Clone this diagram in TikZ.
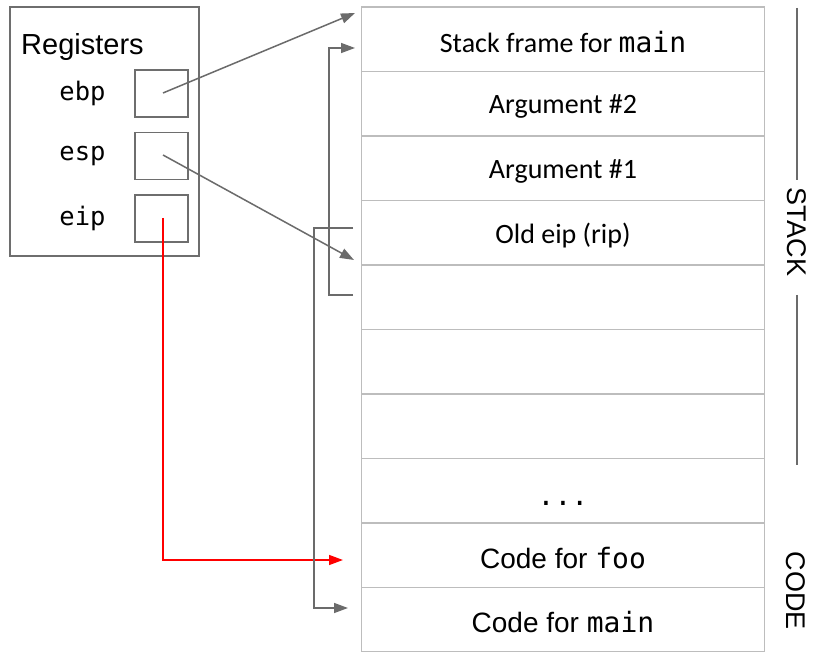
\documentclass[tikz,border=0pt]{standalone}
\usepackage{fontspec}
\setmainfont{Liberation Sans}
\newfontfamily\calib{Carlito}
\newfontfamily\monof{DejaVu Sans Mono}
\usetikzlibrary{arrows.meta}
\definecolor{cellgray}{HTML}{BDBDBD}
\definecolor{reggray}{HTML}{6E6E6E}
\definecolor{arrowgray}{HTML}{6B6B6B}
\definecolor{ptrred}{HTML}{FF0000}
\tikzset{
  cell/.style={draw=cellgray, line width=1.5pt, minimum width=403pt, minimum height=64.5pt, inner sep=0pt},
  calfont/.style={font=\calib\fontsize{28}{30}\selectfont, inner sep=0pt},
  arfont/.style={font=\fontsize{28}{30}\selectfont, inner sep=0pt},
  regbox/.style={draw=reggray, line width=1.5pt, minimum width=53pt, minimum height=47pt, inner sep=0pt},
  reglabel/.style={font=\monof\fontsize{25.5}{28}\selectfont, inner sep=0pt},
  ptr/.style={draw=arrowgray, line width=1.5pt, -{Triangle[length=14pt,width=10pt]}},
  redptr/.style={draw=ptrred, line width=1.5pt, -{Triangle[length=14pt,width=10pt]}},
  side/.style={draw=arrowgray, line width=1.5pt},
  sidelabel/.style={font=\fontsize{27}{30}\selectfont, rotate=-90, inner sep=0pt},
}
\begin{document}
\begin{tikzpicture}[x=1pt,y=-1pt]
\useasboundingbox[fill=white] (0,0) rectangle (817,652);
% stack cells
\node[cell] (r1) at (563,39.25) {};
\node[cell] (r2) at (563,103.75) {};
\node[cell] (r3) at (563,168.25) {};
\node[cell] (r4) at (563,232.75) {};
\node[cell] (r5) at (563,297.25) {};
\node[cell] (r6) at (563,361.75) {};
\node[cell] (r7) at (563,426.25) {};
\node[cell] (r8) at (563,490.75) {};
\node[cell] (r9) at (563,555.25) {};
\node[cell] (r10) at (563,619.75) {};
% cell texts
\node[calfont] (t1) at (563,42) {Stack frame for {\monof main}};
\node[calfont] (t2) at (563,106.5) {Argument \#2};
\node[calfont] (t3) at (563,171) {Argument \#1};
\node[calfont] (t4) at (563,235.5) {Old eip (rip)};
\node[font=\monof\fontsize{28}{30}\selectfont, inner sep=0pt] (t8) at (563,503) {...};
\node[arfont] (t9) at (563,558.5) {Code for {\monof foo}};
\node[arfont] (t10) at (563,622.5) {Code for {\monof main}};
% registers
\node[draw=reggray, line width=1.5pt, minimum width=189pt, minimum height=249pt, inner sep=0pt] (regs) at (104.5,131.5) {};
\node[font=\fontsize{29}{31}\selectfont, anchor=west, inner sep=0pt] (regt) at (21,47.5) {Registers};
\node[regbox] (ebpbox) at (161.5,93.5) {};
\node[regbox] (espbox) at (161.5,156) {};
\node[regbox] (eipbox) at (161.5,218.5) {};
\node[reglabel] (ebpl) at (82.5,93.5) {ebp};
\node[reglabel] (espl) at (82.5,156.5) {esp};
\node[reglabel] (eipl) at (82.5,218.5) {eip};
% pointers
\coordinate (ebpstart) at (163,93);
\coordinate (espstart) at (163,155);
\coordinate (eipstart) at (163,218);
\coordinate (ebpend) at (355,13);
\coordinate (espend) at (354,260);
\coordinate (redend) at (343,560);
\draw[ptr] (ebpstart) -- (ebpend);
\draw[ptr] (espstart) -- (espend);
\draw[redptr] (eipstart) |- (redend);
% brackets
\coordinate (b1a) at (353,295);
\coordinate (b1b) at (355,48);
\draw[ptr] (b1a) -- ++(-24,0) |- (b1b);
\coordinate (b2a) at (353,228);
\coordinate (b2b) at (348,608);
\draw[ptr] (b2a) -- ++(-39,0) |- (b2b);
% side labels
\node[sidelabel] (stack) at (797,232) {STACK};
\node[sidelabel] (code) at (796,591) {CODE};
\coordinate (s1) at (797,8);
\coordinate (s2) at (797,180);
\coordinate (s3) at (797,295);
\coordinate (s4) at (797,465);
\draw[side] (s1) -- (s2);
\draw[side] (s3) -- (s4);
\end{tikzpicture}
\end{document}
